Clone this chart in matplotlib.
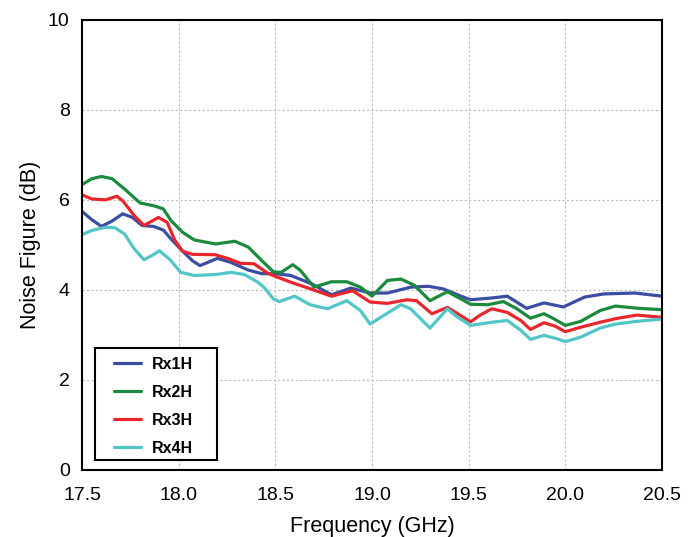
import matplotlib.pyplot as plt
from matplotlib.patches import Rectangle

plt.rcParams['font.family'] = ['Liberation Sans', 'DejaVu Sans']

# readings from the reference chart (frequency in GHz, noise figure in dB)
freq_rx1 = [17.5, 17.55, 17.6, 17.655, 17.71, 17.76, 17.81, 17.87, 17.92, 17.96, 18.02, 18.07, 18.11,
            18.15, 18.2, 18.27, 18.36, 18.43, 18.5, 18.58, 18.69, 18.79, 18.89, 18.99, 19.08, 19.2,
            19.29, 19.37, 19.46, 19.51, 19.62, 19.7, 19.8, 19.89, 19.99, 20.1, 20.2, 20.36, 20.5]
nf_rx1 = [5.74, 5.56, 5.41, 5.53, 5.69, 5.61, 5.43, 5.41, 5.33, 5.13, 4.86, 4.65, 4.54,
          4.61, 4.7, 4.61, 4.44, 4.36, 4.36, 4.32, 4.13, 3.89, 4.04, 3.93, 3.93, 4.06,
          4.08, 4.02, 3.86, 3.78, 3.82, 3.86, 3.59, 3.71, 3.62, 3.84, 3.91, 3.93, 3.86]

freq_rx2 = [17.5, 17.55, 17.6, 17.655, 17.72, 17.8, 17.87, 17.92, 17.96, 18.02, 18.08, 18.19, 18.29,
            18.36, 18.43, 18.49, 18.53, 18.59, 18.63, 18.7, 18.79, 18.87, 18.94, 19.0, 19.08, 19.15,
            19.22, 19.3, 19.39, 19.46, 19.51, 19.6, 19.68, 19.75, 19.82, 19.89, 19.94, 20.0, 20.08,
            20.18, 20.26, 20.38, 20.5]
nf_rx2 = [6.34, 6.47, 6.52, 6.47, 6.24, 5.93, 5.87, 5.8, 5.54, 5.28, 5.11, 5.02, 5.08,
          4.95, 4.65, 4.4, 4.39, 4.56, 4.43, 4.06, 4.18, 4.18, 4.06, 3.86, 4.21, 4.24,
          4.1, 3.76, 3.96, 3.8, 3.68, 3.67, 3.74, 3.58, 3.37, 3.47, 3.36, 3.21, 3.3,
          3.54, 3.64, 3.59, 3.56]

freq_rx3 = [17.5, 17.55, 17.62, 17.68, 17.71, 17.77, 17.82, 17.895, 17.94, 17.98, 18.02, 18.07, 18.19,
            18.26, 18.32, 18.39, 18.46, 18.5, 18.58, 18.69, 18.79, 18.9, 18.99, 19.08, 19.18, 19.23,
            19.31, 19.39, 19.44, 19.51, 19.56, 19.62, 19.7, 19.77, 19.82, 19.89, 19.95, 20.0, 20.08,
            20.18, 20.26, 20.37, 20.5]
nf_rx3 = [6.11, 6.02, 6.0, 6.08, 5.98, 5.65, 5.43, 5.61, 5.5, 5.1, 4.86, 4.79, 4.78,
          4.69, 4.59, 4.58, 4.37, 4.3, 4.17, 4.01, 3.86, 3.98, 3.73, 3.7, 3.78, 3.76,
          3.47, 3.61, 3.48, 3.29, 3.44, 3.58, 3.5, 3.32, 3.12, 3.27, 3.19, 3.07, 3.17,
          3.28, 3.36, 3.44, 3.39]

freq_rx4 = [17.5, 17.55, 17.62, 17.67, 17.72, 17.77, 17.82, 17.86, 17.9, 17.955, 18.01, 18.08, 18.19,
            18.27, 18.34, 18.41, 18.44, 18.49, 18.52, 18.6, 18.68, 18.77, 18.87, 18.94, 18.99, 19.06,
            19.15, 19.2, 19.3, 19.39, 19.44, 19.51, 19.62, 19.7, 19.77, 19.82, 19.89, 19.96, 20.0,
            20.08, 20.18, 20.26, 20.37, 20.5]
nf_rx4 = [5.23, 5.32, 5.39, 5.38, 5.24, 4.91, 4.67, 4.76, 4.87, 4.67, 4.39, 4.32, 4.34,
          4.39, 4.34, 4.17, 4.06, 3.8, 3.74, 3.86, 3.67, 3.58, 3.76, 3.54, 3.24, 3.43,
          3.67, 3.58, 3.15, 3.58, 3.4, 3.21, 3.28, 3.32, 3.1, 2.9, 2.99, 2.91, 2.85,
          2.95, 3.15, 3.24, 3.3, 3.35]

labels = ['Rx1H', 'Rx2H', 'Rx3H', 'Rx4H']
colors = ['#3b4ea3', '#1b8a3c', '#e8262b', '#52c5c8']

fig = plt.figure(figsize=(6.96, 5.37), dpi=100)
ax = fig.add_axes([0.118, 0.125, 0.833, 0.838])

series = [(freq_rx1, nf_rx1), (freq_rx2, nf_rx2), (freq_rx3, nf_rx3), (freq_rx4, nf_rx4)]
for (f, nf), lab, c in zip(series, labels, colors):
    ax.plot(f, nf, color=c, lw=2.3, label=lab, solid_joinstyle='round', solid_capstyle='round')

ax.set_xlim(17.5, 20.5)
ax.set_ylim(0, 10)
ax.set_xticks([17.5, 18.0, 18.5, 19.0, 19.5, 20.0, 20.5])
ax.set_xticklabels(['17.5', '18.0', '18.5', '19.0', '19.5', '20.0', '20.5'])
ax.set_yticks([0, 2, 4, 6, 8, 10])
ax.tick_params(length=0, labelsize=14)
ax.tick_params(axis='x', pad=12)
ax.tick_params(axis='y', pad=9)
ax.grid(True, color='#bbbbbb', ls=(0, (2, 2)), lw=0.8)
for s in ax.spines.values():
    s.set_linewidth(1.5)
    s.set_color('black')

ax.set_xlabel('Frequency (GHz)', fontsize=15.5, labelpad=9)
ax.set_ylabel('Noise Figure (dB)', fontsize=15.5, labelpad=5)

# legend box drawn separately so the padding matches the original
box = Rectangle((0.022, 0.022), 0.211, 0.249, transform=ax.transAxes, fill=True,
                facecolor='white', edgecolor='black', lw=1.5, zorder=4)
ax.add_patch(box)
leg = ax.legend(loc='upper left', bbox_to_anchor=(0.055, 0.251), prop={'weight': 'bold', 'size': 11.5},
                frameon=False, handlelength=1.7, borderpad=0, borderaxespad=0,
                labelspacing=0.81, handletextpad=0.7)
leg.set_zorder(5)

fig.savefig('out.png', dpi=100)
